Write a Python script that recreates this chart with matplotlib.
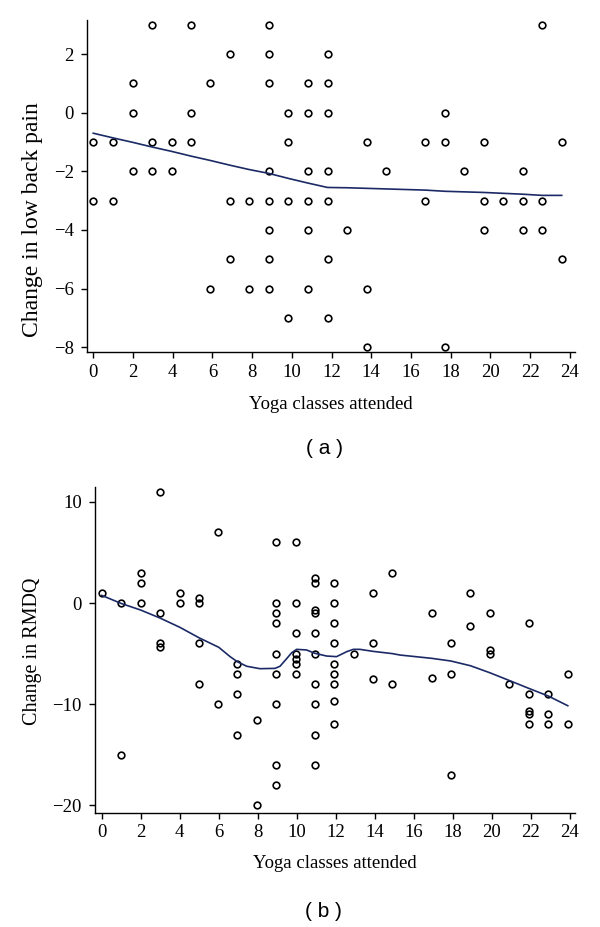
import matplotlib
matplotlib.use("Agg")
import matplotlib.pyplot as plt

plt.rcParams['font.family'] = ['Liberation Serif', 'DejaVu Serif']

# panel (a): change in low back pain vs classes attended
classes_a = [0, 0, 1.0, 1.0, 1.98, 1.98, 1.98, 2.96, 2.96, 2.96, 3.95, 3.95,
             4.92, 4.92, 4.92, 5.9, 5.9, 6.88, 6.88, 6.88, 7.86, 7.86,
             8.84, 8.84, 8.84, 8.84, 8.84, 8.84, 8.84, 8.84,
             9.82, 9.82, 9.82, 9.82,
             10.81, 10.81, 10.81, 10.81, 10.81, 10.81,
             11.8, 11.8, 11.8, 11.8, 11.8, 11.8, 11.8,
             12.79, 13.77, 13.77, 13.77, 14.75, 16.73, 16.73,
             17.7, 17.7, 17.7, 18.68, 19.66, 19.66, 19.66, 20.65,
             21.63, 21.63, 21.63, 22.61, 22.61, 22.61, 23.59, 23.59]
pain_change = [-1, -3, -1, -3, 1, 0, -2, 3, -1, -2, -1, -2,
               3, 0, -1, 1, -6, 2, -3, -5, -3, -6,
               3, 2, 1, -2, -3, -4, -5, -6,
               0, -1, -3, -7,
               1, 0, -2, -3, -4, -6,
               2, 1, 0, -2, -3, -5, -7,
               -4, -1, -6, -8, -2, -1, -3,
               0, -1, -8, -2, -1, -3, -4, -3,
               -2, -3, -4, 3, -3, -4, -1, -5]

fit_x_a = [0, 1.0, 1.98, 2.96, 3.95, 4.92, 5.9, 6.88, 7.86, 8.84, 9.82, 10.81,
           11.8, 12.79, 13.77, 14.75, 16.73, 17.7, 18.68, 19.66, 20.65, 21.63,
           22.61, 23.59]
fit_y_a = [-0.70, -0.86, -1.01, -1.17, -1.32, -1.48, -1.63, -1.79, -1.94,
           -2.07, -2.24, -2.40, -2.55, -2.56, -2.58, -2.60, -2.64, -2.68,
           -2.70, -2.72, -2.75, -2.78, -2.82, -2.82]

# panel (b): change in RMDQ vs classes attended
classes_b = [0, 1, 1, 2, 2, 2, 3, 3, 3, 3, 4, 4,
             4.96, 4.96, 4.96, 4.96, 5.98, 5.98,
             6.95, 6.95, 6.95, 6.95, 7.94, 7.94,
             8.95, 8.95, 8.95, 8.95, 8.95, 8.95, 8.95, 8.95, 8.95,
             9.94, 9.94, 9.94, 9.94, 9.94, 9.94, 9.94,
             10.93, 10.93, 10.93, 10.93, 10.93, 10.93, 10.93, 10.93, 10.93, 10.93,
             11.9, 11.9, 11.9, 11.9, 11.9, 11.9, 11.9, 11.9, 11.9,
             12.93, 13.92, 13.92, 13.92, 14.9, 14.9, 16.93, 16.93,
             17.9, 17.9, 17.9, 18.91, 18.91, 19.9, 19.9, 19.9, 20.89,
             21.92, 21.92, 21.92, 21.92, 21.92, 22.91, 22.91, 22.91,
             23.9, 23.9]
rmdq_change = [1, 0, -15, 3, 2, 0, 11, -1, -4, -4.3, 1, 0,
               0.5, 0, -4, -8, 7, -10,
               -6, -7, -9, -13, -11.6, -20,
               6, 0, -1, -2, -5, -7, -10, -16, -18,
               6, 0, -3, -5, -5.5, -6, -7,
               2.5, 2, -0.7, -1, -3, -5, -8, -10, -13, -16,
               2, 0, -2, -4, -6, -7, -8, -9.7, -12,
               -5, 1, -4, -7.5, 3, -8, -1, -7.4,
               -4, -7, -17, 1, -2.3, -1, -4.6, -5, -8,
               -2, -9, -10.7, -11, -12, -9, -11, -12,
               -7, -12]

fit_x_b = [0, 1, 2, 3, 4, 5, 6, 6.58, 6.95, 7.43, 8.11, 8.88, 9.14, 9.48,
           9.74, 9.99, 10.5, 10.93, 11.53, 12.04, 12.56, 12.9, 13.24, 13.92,
           14.9, 15.29, 16.93, 17.9, 18.91, 19.9, 20.89, 21.92, 22.91, 23.9]
fit_y_b = [0.75, -0.05, -0.7, -1.5, -2.4, -3.45, -4.38, -5.3, -5.8, -6.25,
           -6.49, -6.46, -6.25, -5.5, -4.91, -4.58, -4.64, -4.97, -5.24, -5.3,
           -4.81, -4.58, -4.58, -4.78, -5.0, -5.14, -5.47, -5.73, -6.2, -6.89,
           -7.65, -8.45, -9.2, -10.15]

x_ticks = list(range(0, 25, 2))
LINE = '#1b2a66'


def style(ax):
    for side in ('top', 'right'):
        ax.spines[side].set_visible(False)
    for side in ('left', 'bottom'):
        ax.spines[side].set_linewidth(1.0)
    ax.tick_params(direction='out', length=4.3, width=1.0, labelsize=13.5)
    ax.tick_params(axis='y', pad=5)
    ax.tick_params(axis='x', pad=4)
    ax.set_xticks(x_ticks)


fig = plt.figure(figsize=(6, 9.27), dpi=100)

ax1 = fig.add_axes([0.1445, 0.6203, 0.8135, 0.3581])
ax1.plot(classes_a, pain_change, 'o', mfc='none', mec='black', ms=4.8, mew=1.2)
ax1.plot(fit_x_a, fit_y_a, color=LINE, lw=1.2)
ax1.set_xlim(-0.33, 24.25)
ax1.set_ylim(-8.16, 3.16)
ax1.set_yticks([-8, -6, -4, -2, 0, 2])
style(ax1)
ax1.set_xlabel('Yoga classes attended', fontsize=13.5, va='center')
ax1.xaxis.set_label_coords(0.5, -0.157)
ax1.set_ylabel('Change in low back pain', fontsize=17, va='center')
ax1.yaxis.set_label_coords(-0.112, 0.40)

ax2 = fig.add_axes([0.158, 0.1233, 0.80, 0.351])
ax2.plot(classes_b, rmdq_change, 'o', mfc='none', mec='black', ms=4.8, mew=1.2)
ax2.plot(fit_x_b, fit_y_b, color=LINE, lw=1.2)
ax2.set_xlim(-0.36, 24.26)
ax2.set_ylim(-20.72, 11.43)
ax2.set_yticks([-20, -10, 0, 10])
style(ax2)
ax2.set_xlabel('Yoga classes attended', fontsize=13.5, va='center')
ax2.xaxis.set_label_coords(0.5, -0.155)
ax2.set_ylabel('Change in RMDQ', fontsize=14.5, va='center')
ax2.yaxis.set_label_coords(-0.1305, 0.497)

fig.text(325 / 600, 1 - 449 / 927, '( a )', ha='center', va='center',
         fontsize=15, family=['Liberation Sans', 'DejaVu Sans'])
fig.text(323.5 / 600, 1 - 911.5 / 927, '( b )', ha='center', va='center',
         fontsize=15, family=['Liberation Sans', 'DejaVu Sans'])

fig.savefig('out.png', dpi=100)
